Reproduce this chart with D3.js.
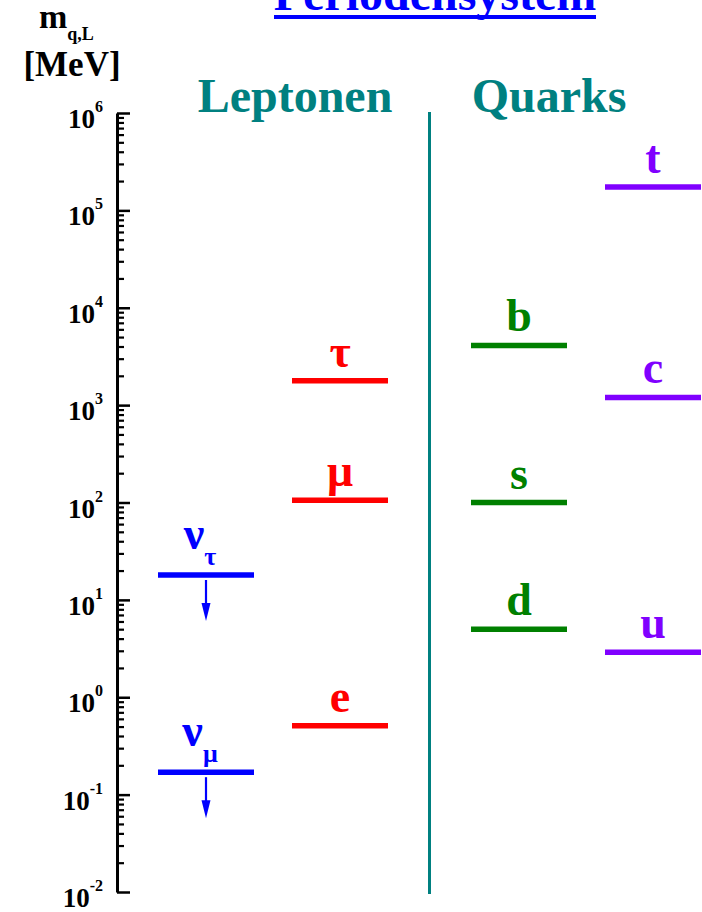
<!DOCTYPE html>
<html>
<head>
<meta charset="utf-8">
<script src="https://cdn.jsdelivr.net/npm/d3@7"></script>
<style>
  html, body { margin: 0; padding: 0; background: #fff; }
  svg { display: block; }
  text { font-family: "Liberation Serif", "DejaVu Serif", serif; font-weight: bold; }
</style>
</head>
<body>
<script>
// Fermion masses in MeV (neutrinos drawn as upper limits)
const neutrinos      = ["ν_μ", "ν_τ"];
const neutrinoMasses = [0.17, 18];
const leptons        = ["e", "μ", "τ"];
const leptonMasses   = [0.511, 105.7, 1777];
const downQuarks     = ["d", "s", "b"];
const downMasses     = [5, 100, 4100];
const upQuarks       = ["u", "c", "t"];
const upMasses       = [2.9, 1200, 174000];
const majorTicks     = [1e-2, 1e-1, 1e0, 1e1, 1e2, 1e3, 1e4, 1e5, 1e6];
const tickExponents  = ["-2", "-1", "0", "1", "2", "3", "4", "5", "6"];
const columns        = ["nu", "lepton", "down", "up"];
const columnColors   = ["#0000ff", "#ff0000", "#008000", "#8000ff"];

const W = 702, H = 912;
const svg = d3.select("body").append("svg").attr("width", W).attr("height", H);

const y = d3.scaleLog().domain([1e-2, 1e6]).range([892, 113]);
const x = d3.scaleOrdinal().domain(columns).range([206, 340, 519, 653]);
const color = d3.scaleOrdinal().domain(columns).range(columnColors);
const halfWidth = 48;

// Title (runs off the top edge)
svg.append("text")
  .attr("x", 435).attr("y", 10)
  .attr("text-anchor", "middle")
  .attr("font-size", 48)
  .attr("fill", "#0000ff")
  .text("Periodensystem");
svg.append("rect").attr("x", 274).attr("y", 15).attr("width", 322).attr("height", 4).attr("fill", "#0000ff");

// Axis title
const yt = svg.append("text").attr("x", 39).attr("y", 28).attr("font-size", 34).attr("fill", "#000");
yt.append("tspan").text("m");
yt.append("tspan").attr("font-size", 18).attr("dy", 12).text("q,L");
svg.append("text").attr("x", 72).attr("y", 76).attr("text-anchor", "middle")
  .attr("font-size", 35).attr("fill", "#000").text("[MeV]");

// Group headings
svg.append("text").attr("x", 295).attr("y", 112).attr("text-anchor", "middle")
  .attr("font-size", 48).attr("fill", "#008080").text("Leptonen");
svg.append("text").attr("x", 549).attr("y", 112).attr("text-anchor", "middle")
  .attr("font-size", 48).attr("fill", "#008080").text("Quarks");

// Divider between leptons and quarks
svg.append("line").attr("x1", 429.5).attr("x2", 429.5).attr("y1", 112).attr("y2", 894)
  .attr("stroke", "#008080").attr("stroke-width", 3);

// Log axis: minor and major ticks pointing inward
const minorTicks = [];
for (let e = -2; e < 6; e++) for (let k = 2; k <= 9; k++) minorTicks.push(k * Math.pow(10, e));

const axisG = svg.append("g").attr("transform", "translate(117,0)");
axisG.append("g")
  .call(d3.axisLeft(y).tickValues(minorTicks).tickSize(-7).tickSizeOuter(0).tickFormat(""))
  .call(g => g.select(".domain").remove())
  .call(g => g.selectAll("line").attr("stroke", "#000").attr("stroke-width", 2.2));
axisG.append("g")
  .call(d3.axisLeft(y).tickValues(majorTicks).tickSize(-13).tickSizeOuter(0).tickFormat(""))
  .call(g => g.select(".domain").attr("stroke", "#000").attr("stroke-width", 3))
  .call(g => g.selectAll("line").attr("stroke", "#000").attr("stroke-width", 2.5));

// Tick labels as powers of ten
majorTicks.forEach((v, i) => {
  const t = svg.append("text").attr("x", 103).attr("y", y(v) + 15)
    .attr("text-anchor", "end").attr("font-size", 27).attr("fill", "#000");
  t.append("tspan").text("10");
  t.append("tspan").attr("font-size", 16).attr("dy", -16).text(tickExponents[i]);
});

// Mass levels
function drawLevels(col, names, masses) {
  const c = color(col), cx = x(col);
  names.forEach((name, i) => {
    const yy = y(masses[i]);
    svg.append("line")
      .attr("x1", cx - halfWidth).attr("x2", cx + halfWidth)
      .attr("y1", yy).attr("y2", yy)
      .attr("stroke", c).attr("stroke-width", 5.5);
    const parts = name.split("_");
    const isNu = parts.length > 1;
    const t = svg.append("text")
      .attr("x", cx + (isNu ? -6 : 0)).attr("y", yy - (isNu ? 26 : 14))
      .attr("text-anchor", "middle").attr("font-size", 46).attr("fill", c);
    t.append("tspan").text(parts[0]);
    if (isNu) {
      t.append("tspan").attr("font-size", 26).attr("dy", 16).text(parts[1]);
      // Upper-limit arrow
      const ax = cx;
      svg.append("line").attr("x1", ax).attr("x2", ax).attr("y1", yy + 5).attr("y2", yy + 30)
        .attr("stroke", c).attr("stroke-width", 2.2);
      svg.append("path")
        .attr("d", `M${ax - 4.5},${yy + 28} L${ax + 4.5},${yy + 28} L${ax},${yy + 46} Z`)
        .attr("fill", c);
    }
  });
}
drawLevels("nu", neutrinos, neutrinoMasses);
drawLevels("lepton", leptons, leptonMasses);
drawLevels("down", downQuarks, downMasses);
drawLevels("up", upQuarks, upMasses);
</script>
</body>
</html>
